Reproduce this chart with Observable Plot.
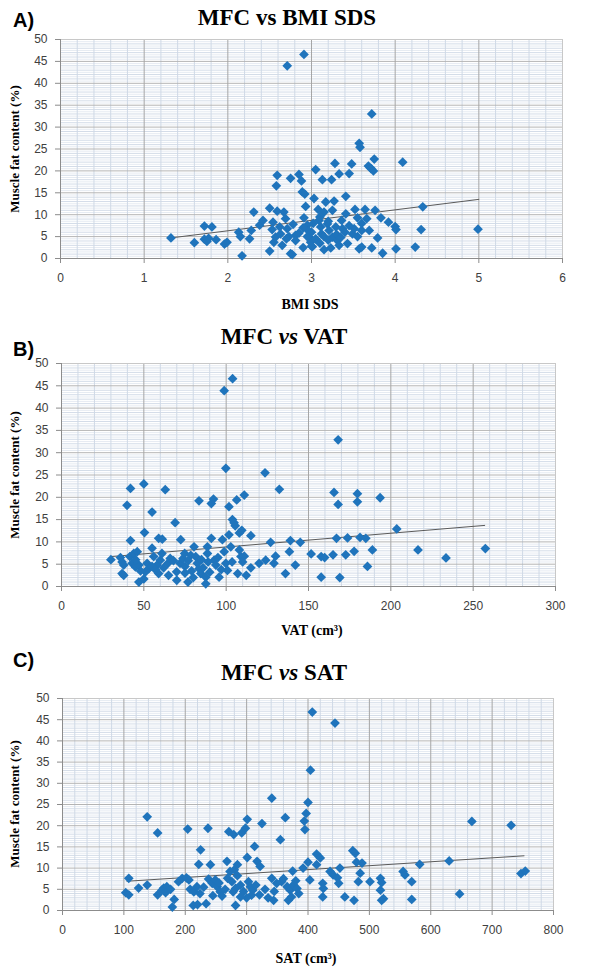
<!DOCTYPE html>
<html><head><meta charset="utf-8">
<script src="https://cdn.jsdelivr.net/npm/d3@7"></script>
<script src="https://cdn.jsdelivr.net/npm/@observablehq/plot@0.6"></script>
<style>
body{margin:0;background:#fff;}
#page{position:relative;width:600px;height:976px;overflow:hidden;background:#fff;}
.pl{position:absolute;left:0;}
#overlay{position:absolute;left:0;top:0;}
</style>
</head><body>
<div id="page">
<div id="pA" class="pl" style="top:0px"></div>
<div id="pB" class="pl" style="top:320px"></div>
<div id="pC" class="pl" style="top:650px"></div>
<svg id="overlay" width="600" height="976" xmlns="http://www.w3.org/2000/svg">
  <g font-family="'Liberation Sans Narrow','Liberation Sans',Arial,sans-serif" font-weight="bold" font-size="20" fill="#000">
    <text x="13" y="27">A)</text>
    <text x="13" y="356">B)</text>
    <text x="13" y="667">C)</text>
  </g>
  <g font-family="'Liberation Serif','Times New Roman',serif" font-weight="bold" font-size="23" fill="#000" text-anchor="middle">
    <text x="287" y="25">MFC vs BMI SDS</text>
    <text x="284" y="344">MFC <tspan font-style="italic">vs</tspan> VAT</text>
    <text x="284" y="680">MFC <tspan font-style="italic">vs</tspan> SAT</text>
  </g>
  <g font-family="'Liberation Serif','Times New Roman',serif" font-weight="bold" font-size="14" fill="#000" text-anchor="middle">
    <text x="310" y="309">BMI SDS</text>
    <text x="312" y="635">VAT (cm³)</text>
    <text x="306" y="963">SAT (cm³)</text>
  </g>
  <g font-family="'Liberation Serif','Times New Roman',serif" font-weight="bold" font-size="13" fill="#000" text-anchor="middle">
    <text transform="translate(19,149) rotate(-90)">Muscle fat content (%)</text>
    <text transform="translate(19,475) rotate(-90)">Muscle fat content (%)</text>
    <text transform="translate(19,804) rotate(-90)">Muscle fat content (%)</text>
  </g>
</svg>
</div>
<script>
// ---- Panel A: BMI SDS vs MFC ----
const aX = [1.32,1.60,1.72,1.81,1.72,1.75,1.77,1.86,1.96,1.99,2.17,2.13,2.15,2.26,2.28,2.31,2.38,2.42,2.50,2.50,2.53,2.54,2.55,2.57,2.59,2.58,2.59,2.62,2.63,2.67,2.69,2.71,2.73,2.75,2.75,2.77,2.78,2.81,2.81,2.85,2.88,2.89,2.92,2.93,2.91,2.95,2.96,2.97,2.99,3.01,3.03,3.05,3.08,3.09,3.11,3.12,3.13,3.15,3.17,3.19,3.21,3.23,3.24,3.25,3.27,3.28,3.29,3.25,3.31,3.33,3.33,3.36,3.37,3.41,3.41,3.43,3.45,3.48,3.49,3.51,3.52,3.55,3.57,3.58,3.57,3.60,3.60,3.64,3.66,3.68,3.71,3.74,3.69,3.72,3.75,3.76,3.79,3.83,3.85,3.92,4.00,4.01,4.01,4.09,4.24,4.31,4.33,4.99,2.71,2.91,3.72,2.85,2.90,2.95,3.00,3.02,3.05,3.10,3.15,3.20,3.30,3.35,3.40,3.45,2.70,2.65,3.00,3.10,3.20,3.60,3.55,3.15,2.90];
const aY = [4.7,3.6,7.4,7.2,4.4,3.9,4.6,4.3,3.3,3.7,0.6,6.0,5.0,4.5,6.4,10.6,7.6,8.7,11.5,1.7,6.6,8.3,3.7,4.9,19.0,16.6,10.8,7.2,5.6,10.6,9.1,6.8,5.0,18.3,1.1,0.9,7.8,5.3,4.1,19.2,17.7,15.2,14.7,11.9,9.3,7.6,6.4,4.9,3.7,2.7,13.7,20.3,11.2,8.7,7.2,5.6,18.0,10.6,12.9,7.9,6.4,2.4,18.0,11.0,13.1,21.7,7.2,4.9,4.1,3.0,19.3,8.7,6.8,14.2,10.2,3.4,19.4,21.6,5.6,6.8,11.2,9.3,26.3,25.4,2.2,2.6,6.4,11.2,9.1,21.1,20.6,20.0,6.4,2.4,22.7,11.0,4.7,9.3,1.2,8.3,7.3,6.6,2.2,22.0,2.6,6.6,11.8,6.7,44.0,46.6,33.0,5.8,7.0,5.0,6.0,8.0,4.5,3.5,5.0,4.2,5.5,4.8,6.0,7.5,4.5,3.0,2.8,9.5,8.5,8.0,5.0,2.0,2.5];
const aTrendX = [1.32, 5.0];
const aTrendY = [4.7, 13.5];
const aTicks = [0,1,2,3,4,5,6];

// ---- Panel B: VAT vs MFC ----
const bX = [30,35.8,36.8,37.8,36.8,37.8,39.8,41.9,41.9,41.5,43.9,46,42.9,44.9,47,47,50,50,50.4,52,53,51,55,55,56,59,61.2,58,60,61,59,63,64.6,66,69,69.9,70,72,73.8,74.8,72.4,76.8,78.5,80.5,81.5,82.5,83.5,84.6,83.5,87.6,87.6,88.6,88.6,91,91,92.3,92.7,93.7,95.7,97.7,98.8,99.8,99.8,100.8,101.7,101.7,102.8,103.8,104.8,105.5,103.6,106.4,107,108,109,108,109.5,111,111,112.2,110,115,115,120,124,123.6,127,129,130,132.3,136,138.4,139,142,145,151.6,157.7,159.8,157.7,165.5,168,167,169,98.8,103.9,168,179.7,179.7,193.5,203.6,173.7,181.3,184.8,164.9,172.6,177.7,188.8,185.8,216.5,233.5,257.4,45,48,55,57,62,65,68,75,77,79,80,85,86,90,95,97,89,75];
const bY = [6.0,6.5,5.5,4.8,2.9,2.5,18.2,22.0,10.3,6.7,7.4,7.8,5.2,4.4,4.8,1.0,1.7,23.0,12.1,5.2,4.0,3.3,8.6,16.7,6.7,10.8,10.6,4.8,5.9,7.4,2.9,21.7,5.2,6.3,14.3,3.3,1.4,5.2,6.3,7.4,10.5,1.0,7.0,8.9,6.7,5.2,4.0,2.9,19.2,2.1,0.6,8.9,7.4,10.8,18.6,19.6,5.9,4.8,2.1,10.5,7.8,5.2,26.5,3.6,17.9,11.6,8.9,15.0,14.3,13.6,5.5,19.4,2.9,8.2,6.7,12.0,12.6,20.5,6.8,2.5,5.5,11.4,4.2,5.2,5.9,25.5,9.9,5.2,6.8,21.8,2.9,7.8,10.3,4.8,9.9,7.3,6.7,6.5,2.1,21.1,18.4,10.8,2.0,43.9,46.6,32.9,20.8,19.0,19.9,12.9,10.9,11.0,10.8,7.1,7.1,7.9,8.2,4.5,8.2,6.4,8.5,6.0,3.5,4.5,3.8,4.2,2.5,5.8,4.5,5.8,3.5,2.0,6.0,4.2,3.2,6.5,3.8,5.5,3.0];
const bTrendX = [30, 257];
const bTrendY = [6.7, 13.7];
const bTicks = [0,50,100,150,200,250,300];

// ---- Panel C: SAT vs MFC ----
const cX = [108,103,108,124,138,138,155,155,165,170,176,162,168,182,179,189,195,202,206,204,208,214,219,224,213,220,222,225,237,234,238,244,249,241,252,257,260,268,271,279,273,280,285,269,276,282,278,282,285,292,298,301,301,303,306,310,308,313,317,322,321,325,341,341,349,357,344,355,363,366,371,376,382,368,373,375,392,394,395,397,400,400,403,414,420,414,424,425,424,436,441,450,452,448,460,473,477,475,479,488,485,482,501,518,520,518,520,523,555,558,569,569,407,404,444,667,731,747,754,630,582,647,230,245,255,265,290,295,300,315,330,335,345,360,380,385,290];
const cY = [7.6,4.2,3.7,5.3,22.1,6.0,18.3,3.7,5.3,5.6,5.0,4.8,4.2,2.6,0.8,6.8,7.6,7.7,7.2,19.2,5.0,4.4,5.6,4.0,1.2,1.4,10.9,14.3,19.4,1.6,7.4,6.4,7.2,10.8,5.6,4.4,3.4,11.6,18.6,17.9,9.2,9.6,8.2,7.6,6.8,5.2,4.4,1.2,10.8,18.3,19.4,21.5,12.5,6.8,5.6,4.8,3.6,15.1,11.6,10.4,3.7,20.5,26.5,7.6,6.4,6.8,2.4,16.7,21.9,5.6,4.8,6.0,5.2,2.4,3.2,9.3,10.0,21.1,19.1,22.9,25.5,11.4,7.2,13.3,12.4,10.8,6.4,5.2,3.2,9.2,8.4,6.4,10.0,7.7,3.2,14.1,13.5,2.4,11.4,11.2,8.8,6.8,6.8,7.6,6.6,4.8,2.4,2.8,9.2,8.4,6.8,2.6,46.8,33.1,44.2,21.0,20.1,8.7,9.3,11.7,10.9,3.9,5.5,3.5,6.5,5.0,6.0,4.5,3.0,6.0,5.0,3.0,4.5,7.5,7.0,4.0,3.2];
const cTrendX = [105, 752];
const cTrendY = [6.9, 12.9];
const cTicks = [0,100,200,300,400,500,600,700,800];

const yTicks = [0,5,10,15,20,25,30,35,40,45,50];

function panel(el, xs, ys, tx, ty, xTicks, minorPerMajor, dims) {
  const pts = xs.map((x, i) => ({x, y: ys[i]}));
  const trend = tx.map((x, i) => ({x, y: ty[i]}));
  const xStep = xTicks[1] - xTicks[0];
  const xMin = xTicks[0], xMax = xTicks[xTicks.length - 1];
  const xMinor = d3.range(0, (xMax - xMin) / xStep * minorPerMajor + 1)
    .map(i => xMin + i * xStep / minorPerMajor)
    .filter((v, i) => i % minorPerMajor !== 0);
  const yMinor = d3.range(0, 101).map(i => i * 0.5).filter((v, i) => i % 10 !== 0);
  const yMinor1 = yMinor.filter(v => Number.isInteger(v));
  const yMinorH = yMinor.filter(v => !Number.isInteger(v));
  const chart = Plot.plot({
    width: 600, height: dims.h,
    marginLeft: dims.ml, marginRight: dims.mr, marginTop: dims.mt, marginBottom: dims.mb,
    style: {fontFamily: "'Liberation Sans', Arial, sans-serif", fontSize: "12px", background: "transparent", color: "#404040"},
    x: {domain: [xMin, xMax]},
    y: {domain: [0, 50]},
    marks: [
      Plot.ruleY(yMinorH, {stroke: "#e6ebf2", strokeWidth: 1}),
      Plot.ruleY(yMinor1, {stroke: "#d3dce8", strokeWidth: 1}),
      Plot.ruleX(xMinor, {stroke: "#cfd9e6", strokeWidth: 1}),
      Plot.ruleY(yTicks, {stroke: "#b4b4b4", strokeWidth: 1}),
      Plot.ruleX(xTicks, {stroke: "#a6a6a6", strokeWidth: 1}),
      Plot.frame({stroke: "#c8c8c8"}),
      Plot.ruleY([0], {stroke: "#8c8c8c"}),
      Plot.ruleX([xMin], {stroke: "#8c8c8c"}),
      Plot.axisX({ticks: xTicks, tickSize: 5, tickPadding: 10, stroke: "#8c8c8c", fill: "#404040", label: null, tickFormat: d => String(d)}),
      Plot.axisY({ticks: yTicks, tickSize: 5, tickPadding: 8, stroke: "#8c8c8c", fill: "#404040", label: null, tickFormat: d => String(d)}),
      Plot.line(trend, {x: "x", y: "y", stroke: "#5a5a5a", strokeWidth: 1}),
      Plot.dot(pts, {x: "x", y: "y", symbol: "diamond2", r: 4.4, fill: "#1f74bc", stroke: "none"})
    ]
  });
  document.getElementById(el).appendChild(chart);
}

panel("pA", aX, aY, aTrendX, aTrendY, aTicks, 5, {h: 300, ml: 60, mr: 38, mt: 39, mb: 42});
panel("pB", bX, bY, bTrendX, bTrendY, bTicks, 5, {h: 300, ml: 61, mr: 45, mt: 43, mb: 34});
panel("pC", cX, cY, cTrendX, cTrendY, cTicks, 5, {h: 290, ml: 62, mr: 47, mt: 48, mb: 30});
</script>
</body></html>
